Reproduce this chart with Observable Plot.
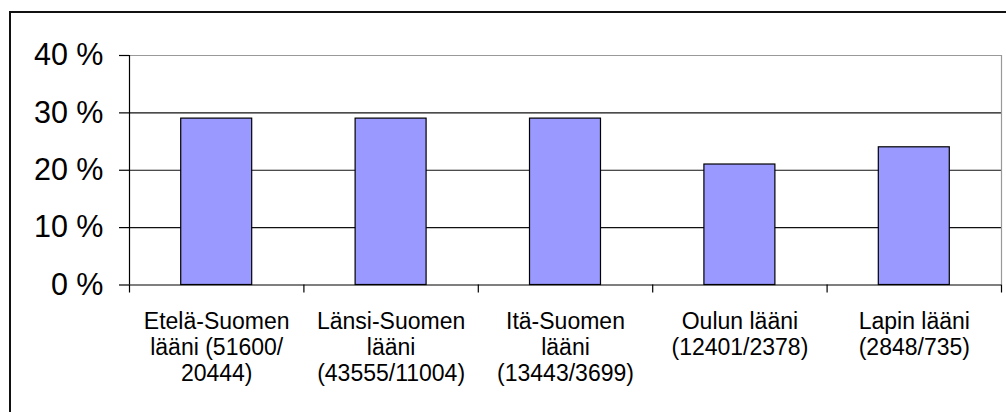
<!DOCTYPE html>
<html><head><meta charset="utf-8">
<script src="https://cdn.jsdelivr.net/npm/d3@7"></script>
<script src="https://cdn.jsdelivr.net/npm/@observablehq/plot@0.6"></script>
<style>
body{margin:0;background:#fff;}
#wrap{position:relative;width:1006px;height:412px;overflow:hidden;background:#fff;}
#frame{position:absolute;left:9px;top:11px;width:1100px;height:500px;border-left:2px solid #111;border-top:2px solid #111;}
#chart{position:absolute;left:0;top:0;}
</style></head><body>
<div id="wrap"><div id="frame"></div><div id="chart"></div></div>
<script>
const categories = ["Etelä-Suomen lääni", "Länsi-Suomen lääni", "Itä-Suomen lääni", "Oulun lääni", "Lapin lääni"];
const tickLabels = [
  "Etelä-Suomen\nlääni (51600/\n20444)",
  "Länsi-Suomen\nlääni\n(43555/11004)",
  "Itä-Suomen\nlääni\n(13443/3699)",
  "Oulun lääni\n(12401/2378)",
  "Lapin lääni\n(2848/735)"
];
const values = [29, 29, 29, 21, 24];
const yTicks = [0, 10, 20, 30, 40];

const data = categories.map((c, i) => ({category: c, i, value: values[i]}));
const half = 0.2035;
const font = "Liberation Sans, Arial, Helvetica, sans-serif";

const chart = Plot.plot({
  width: 1006,
  height: 412,
  marginLeft: 129,
  marginRight: 5,
  marginTop: 55,
  marginBottom: 127.5,
  style: {fontFamily: font, color: "black", background: "transparent", overflow: "visible"},
  x: {domain: [0, categories.length]},
  y: {domain: [0, 40]},
  marks: [
    Plot.ruleY([10, 20, 30], {stroke: "#111", strokeWidth: 1.2}),
    Plot.ruleY([40], {stroke: "#999", strokeWidth: 1.2}),
    Plot.ruleX([categories.length], {y1: 0, y2: 40, stroke: "#999", strokeWidth: 1.2}),
    Plot.rectY(data, {x1: d => d.i + 0.5 - half, x2: d => d.i + 0.5 + half, y1: 0, y2: "value", fill: "#9999FF", stroke: "black", strokeWidth: 1.2}),
    Plot.ruleY([0], {stroke: "black", strokeWidth: 1.2}),
    Plot.ruleX([0], {y1: 0, y2: 40, stroke: "black", strokeWidth: 1.2}),
    Plot.axisY(yTicks, {tickSize: 10, tickPadding: 16, fontSize: 30.5, tickFormat: d => `${d} %`, label: null, strokeWidth: 1.2}),
    Plot.axisX(d3.range(0, categories.length + 1), {tickSize: 8, tickFormat: () => "", label: null, strokeWidth: 1.2}),
    Plot.axisX(categories.map((_, i) => i + 0.5), {tickSize: 0, tickPadding: 26, fontSize: 23, lineHeight: 1.13, tickFormat: d => tickLabels[Math.floor(d)], label: null})
  ]
});
document.getElementById("chart").appendChild(chart);
</script>
</body></html>
